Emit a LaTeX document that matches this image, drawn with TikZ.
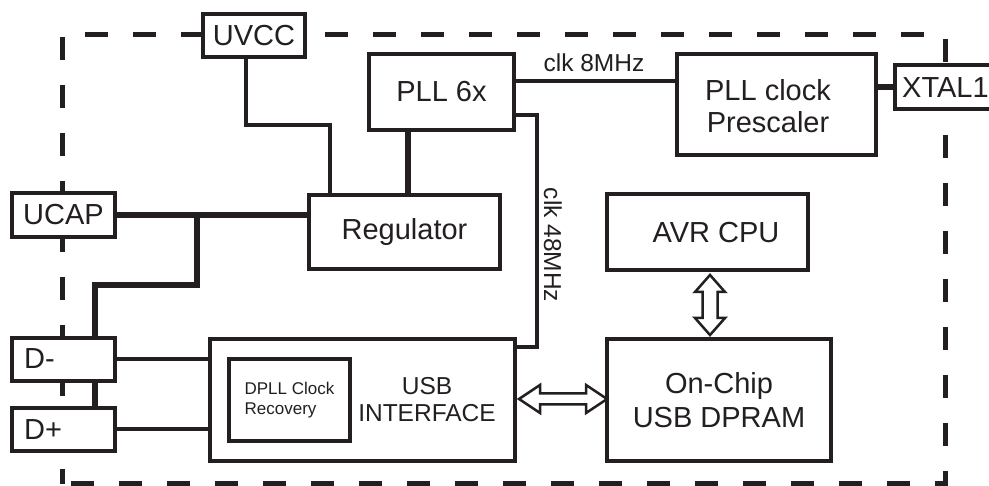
\documentclass[tikz,border=0pt]{standalone}
\usepackage{fontspec}
\setmainfont{Liberation Sans}
\usetikzlibrary{calc}
\definecolor{ink}{RGB}{35,31,32}
\newcommand\fbig{\fontsize{29}{32}\selectfont}
\newcommand\fdram{\fontsize{29}{34}\selectfont}
\newcommand\fmid{\fontsize{24.5}{27}\selectfont}
\newcommand\fsmall{\fontsize{17}{19.5}\selectfont}
\tikzset{
  box/.style={draw=ink, line width=4pt, fill=white, inner sep=0pt, text=ink, font=\fbig, align=center},
  wire/.style={draw=ink, line width=4pt},
  heavy/.style={draw=ink, line width=6pt},
  dbl/.style={draw=ink, line width=2.5pt, fill=white, line join=miter},
  lbl/.style={text=ink, inner sep=0pt},
  border/.style={draw=ink, line width=5pt, dash pattern=on 23pt off 25pt, dash phase=8pt}
}
\begin{document}
\begin{tikzpicture}[x=1pt,y=-1pt]
\useasboundingbox (0,0) rectangle (989,486);
% dashed chip outline
\draw[border] (62,484) -- (62,35) -- (945,35) -- (945,484) -- cycle;

% boxes
\node[box, minimum width=102pt, minimum height=43pt] (uvcc) at (254,35.5) {UVCC};
\node[box, minimum width=103pt, minimum height=44pt] (ucap) at (63.5,215) {UCAP};
\node[box, minimum width=191pt, minimum height=74pt] (reg) at (404.5,232) {Regulator};
\node[box, minimum width=145pt, minimum height=76pt] (pll) at (441.5,92) {PLL 6x};
\node[box, minimum width=199pt, minimum height=101pt] (pre) at (776.5,104.5) {};
\node[lbl, font=\fbig, align=center] (pretxt) at (768,106) {PLL clock\\Prescaler};
\node[box, minimum width=98pt, minimum height=44pt] (xtal) at (944,87) {};
\node[lbl, font=\fbig, anchor=west] (xtaltxt) at (902,88) {XTAL1};
\node[box, minimum width=201pt, minimum height=76pt] (avr) at (707.5,232) {};
\node[lbl, font=\fbig] (avrtxt) at (716,233) {AVR CPU};
\node[box, minimum width=224pt, minimum height=122pt, font=\fdram] (dpram) at (719,400) {On-Chip\\USB DPRAM};
\node[box, minimum width=305pt, minimum height=122pt] (usb) at (362.5,400) {};
\node[lbl, font=\fmid, align=center] (usbtxt) at (427,400) {USB\\INTERFACE};
\node[box, minimum width=121pt, minimum height=82pt, font=\fsmall, align=left] (dpll) at (289.5,400) {DPLL Clock\\Recovery};
\node[box, minimum width=103pt, minimum height=43pt] (dm) at (63.5,359.5) {};
\node[lbl, font=\fbig, anchor=west] (dmtxt) at (24,359) {D-};
\node[box, minimum width=103pt, minimum height=43pt] (dp) at (63.5,429.5) {};
\node[lbl, font=\fbig, anchor=west] (dptxt) at (24,430) {D+};

% bend points
\coordinate (b1) at (246,125);
\coordinate (b2) at (330,125);
\coordinate (j1) at (197,215);
\coordinate (j2) at (197,285);
\coordinate (j3) at (95,285);
\coordinate (p1) at (408,160);
\coordinate (c8) at (595,81);
\coordinate (q1) at (537,115);
\coordinate (q2) at (537,347);

% wires
\draw[wire] (uvcc.south -| b1) -- (b1) -- (b2) -- (reg.north -| b2);
\draw[heavy] (ucap.east) -- (reg.west |- ucap.east);
\draw[heavy] (j1) -- (j2) -- (j3) -- (dm.north -| j3);
\draw[heavy] (dm.south -| j3) -- (dp.north -| j3);
\draw[heavy] (pll.south -| p1) -- (reg.north -| p1);
\draw[wire] (pll.east |- c8) -- (pre.west |- c8);
\node[lbl, font=\fmid] (clk8) at (594,63) {clk 8MHz};
\draw[heavy] (pre.east |- xtal.west) -- (xtal.west);
\draw[wire] (pll.east |- q1) -- (q1) -- (q2) -- (usb.east |- q2);
\node[lbl, font=\fmid, rotate=-90] (clk48) at (553,245) {clk 48MHz};
\draw[wire] (dm.east) -- (usb.west |- dm.east);
\draw[wire] (dp.east) -- (usb.west |- dp.east);

% double arrows
\coordinate (ha) at ($(usb.east)+(2,-1)$);
\draw[dbl] (ha) -- ++(21,-14) -- ++(0,8.5) -- ++(46,0) -- ++(0,-8.5) -- ++(21,14)
  -- ++(-21,14) -- ++(0,-8.5) -- ++(-46,0) -- ++(0,8.5) -- cycle;
\coordinate (va) at ($(avr.south)+(2.5,3)$);
\draw[dbl] (va) -- ++(15,17) -- ++(-7.5,0) -- ++(0,26) -- ++(7.5,0) -- ++(-15,17)
  -- ++(-15,-17) -- ++(7.5,0) -- ++(0,-26) -- ++(-7.5,0) -- cycle;
\end{tikzpicture}
\end{document}
